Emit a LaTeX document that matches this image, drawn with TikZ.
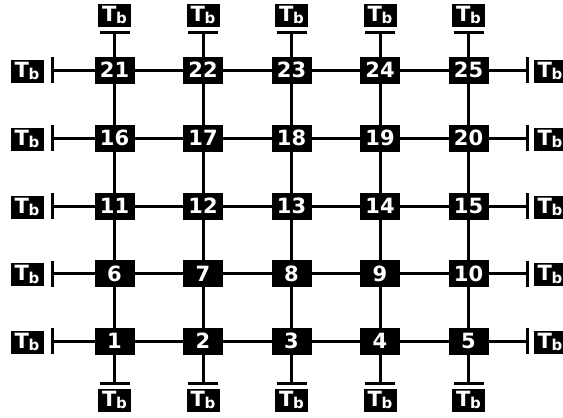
\documentclass[tikz,border=0pt]{standalone}
\usepackage{fontspec}
\setmainfont{DejaVu Sans}
\usetikzlibrary{calc}
\begin{document}
\begin{tikzpicture}[x=1pt,y=-1pt,
  cell/.style={fill=black,text=white,font=\bfseries\fontsize{21}{21}\selectfont,minimum width=40pt,minimum height=27pt,inner sep=0pt},
  tb/.style={fill=black,text=white,font=\bfseries\fontsize{21}{21}\selectfont,minimum width=33pt,minimum height=23pt,inner sep=0pt},
  wire/.style={line width=3pt},
  stub/.style={line width=3pt}]
\useasboundingbox (0,0) rectangle (563,418);
\def\Tb{T\kern-0.5pt\raisebox{-2.5pt}{\fontsize{15}{15}\selectfont b}}
% grid positions
\foreach \r/\yy in {0/341,1/273.5,2/206,3/138,4/70}{
  \foreach \c/\xx in {1/114.5,2/203,3/291.5,4/380,5/468.5}{
    \pgfmathtruncatemacro{\n}{\r*5+\c}
    \coordinate (p\n) at (\xx,\yy);
  }
}
% wires
\foreach \a/\b in {1/2,2/3,3/4,4/5,6/7,7/8,8/9,9/10,11/12,12/13,13/14,14/15,16/17,17/18,18/19,19/20,21/22,22/23,23/24,24/25,
  1/6,6/11,11/16,16/21,2/7,7/12,12/17,17/22,3/8,8/13,13/18,18/23,4/9,9/14,14/19,19/24,5/10,10/15,15/20,20/25}
  \draw[wire] (p\a) -- (p\b);
% boundary stubs
\foreach \c/\xx in {1/114.5,2/203,3/291.5,4/380,5/468.5}{
  \pgfmathtruncatemacro{\t}{20+\c}
  \coordinate (tt\c) at (\xx,32);
  \coordinate (bb\c) at (\xx,383);
  \draw[wire] (p\t) -- (tt\c);
  \draw[wire] (p\c) -- (bb\c);
  \draw[stub] ($(tt\c)+(-15,0)$) -- ($(tt\c)+(15,0)$);
  \draw[stub] ($(bb\c)+(-15,0)$) -- ($(bb\c)+(15,0)$);
  \node[tb] (tbt\c) at (\xx,15) {\Tb};
  \node[tb] (tbb\c) at (\xx,400) {\Tb};
}
\foreach \r/\yy in {0/341,1/273.5,2/206,3/138,4/70}{
  \pgfmathtruncatemacro{\lft}{\r*5+1}
  \pgfmathtruncatemacro{\rgt}{\r*5+5}
  \coordinate (ll\r) at (52,\yy);
  \coordinate (rr\r) at (527,\yy);
  \draw[wire] (p\lft) -- (ll\r);
  \draw[wire] (p\rgt) -- (rr\r);
  \draw[stub] ($(ll\r)+(0,-13)$) -- ($(ll\r)+(0,13)$);
  \draw[stub] ($(rr\r)+(0,-13)$) -- ($(rr\r)+(0,13)$);
  \node[tb] (tbl\r) at (27,\yy+1) {\Tb};
  \node[tb] (tbr\r) at (550,\yy+1) {\Tb};
}
% cells
\foreach \n in {1,...,25}
  \node[cell] (c\n) at (p\n) {\n};
\end{tikzpicture}
\end{document}
